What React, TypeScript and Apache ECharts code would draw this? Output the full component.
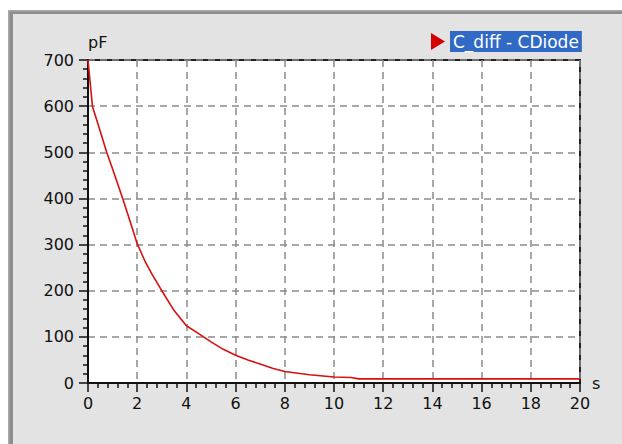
import React, { useEffect, useRef } from "react";
import * as echarts from "echarts";

const times = [0, 0.05, 0.18, 0.5, 0.76, 1, 1.41, 1.7, 2, 2.3, 2.6, 3, 3.5, 4, 4.5, 5, 5.5, 6, 6.5, 7, 7.5, 8, 9, 10, 10.7, 11, 12, 14, 16, 18, 20];
const capacitance = [700, 672, 600, 545, 500, 464, 400, 352, 302, 266, 236, 200, 157, 124, 107, 89, 73, 60, 50, 41, 32, 25, 18, 13, 12, 9, 9, 9, 9, 9, 9];
const seriesName = "C_diff - CDiode";
const yUnit = "pF";
const xUnit = "s";

export default function App() {
  const ref = useRef<HTMLDivElement>(null);
  useEffect(() => {
    if (!ref.current) return;
    const chart = echarts.init(ref.current, null, { renderer: "svg" });
    const font = "DejaVu Sans";
    const data = times.map((t, i) => [t, capacitance[i]]);
    chart.setOption({
      animation: false,
      backgroundColor: "#ffffff",
      textStyle: { fontFamily: font },
      graphic: [
        { type: "rect", z: -10, silent: true, shape: { x: 8, y: 10, width: 614, height: 434 }, style: { fill: "#e3e3e3" } },
        { type: "rect", z: -9, silent: true, shape: { x: 8, y: 10, width: 5, height: 434 }, style: { fill: "#8e8e8e" } },
        { type: "rect", z: -9, silent: true, shape: { x: 8, y: 10, width: 614, height: 4 }, style: { fill: "#8e8e8e" } },
        { type: "rect", z: -8, silent: true, shape: { x: 8, y: 10, width: 1.5, height: 434 }, style: { fill: "#a8a8a8" } },
        { type: "rect", z: -8, silent: true, shape: { x: 8, y: 10, width: 614, height: 1.5 }, style: { fill: "#a8a8a8" } },
      ],
      legend: {
        show: true,
        left: 426,
        top: 26,
        itemWidth: 14,
        itemHeight: 17,
        itemGap: 4,
        icon: "path://M0,0 L14,8.5 L0,17 Z",
        data: [{ name: seriesName, itemStyle: { color: "#d40000" } }],
        textStyle: {
          color: "#ffffff",
          fontFamily: font,
          fontSize: 17,
          backgroundColor: "#316ac5",
          padding: [2, 3, 2, 3],
        },
      },
      grid: {
        left: 88,
        top: 60,
        right: 42,
        bottom: 61,
        show: true,
        backgroundColor: "#ffffff",
        borderColor: "#222222",
        borderWidth: 2,
      },
      xAxis: {
        type: "value",
        min: 0,
        max: 20,
        interval: 2,
        name: xUnit,
        nameLocation: "end",
        nameGap: 12,
        nameTextStyle: { color: "#111", fontSize: 16, fontFamily: font, padding: [0, 0, 14, 0] },
        axisLine: { show: true, onZero: false, lineStyle: { color: "#111", width: 2 } },
        axisTick: { show: true, inside: false, length: 9, lineStyle: { color: "#111", width: 1.5 } },
        minorTick: { show: true, splitNumber: 5, length: 5, lineStyle: { color: "#111", width: 1.5 } },
        axisLabel: { color: "#111", fontSize: 16, fontFamily: font, margin: 12 },
        splitLine: { show: true, lineStyle: { color: "#8a8a8a", width: 1.5, type: [7, 5] } },
      },
      yAxis: {
        type: "value",
        min: 0,
        max: 700,
        interval: 100,
        name: yUnit,
        nameLocation: "end",
        nameGap: 10,
        nameTextStyle: { color: "#111", fontSize: 16, fontFamily: font, align: "left" },
        axisLine: { show: true, onZero: false, lineStyle: { color: "#111", width: 2 } },
        axisTick: { show: true, inside: false, length: 9, lineStyle: { color: "#111", width: 1.5 } },
        minorTick: { show: true, splitNumber: 5, length: 5, lineStyle: { color: "#111", width: 1.5 } },
        axisLabel: { color: "#111", fontSize: 16, fontFamily: font, margin: 14 },
        splitLine: { show: true, lineStyle: { color: "#8a8a8a", width: 1.5, type: [7, 5] } },
      },
      series: [
        {
          name: seriesName,
          type: "line",
          data,
          showSymbol: false,
          symbol: "none",
          lineStyle: { color: "#d81010", width: 1.6 },
          itemStyle: { color: "#d40000" },
        },
      ],
    });
    return () => chart.dispose();
  }, []);
  return (
    <div
      ref={ref}
      style={{ position: "fixed", left: 0, top: 0, width: 622, height: 444 }}
    />
  );
}
